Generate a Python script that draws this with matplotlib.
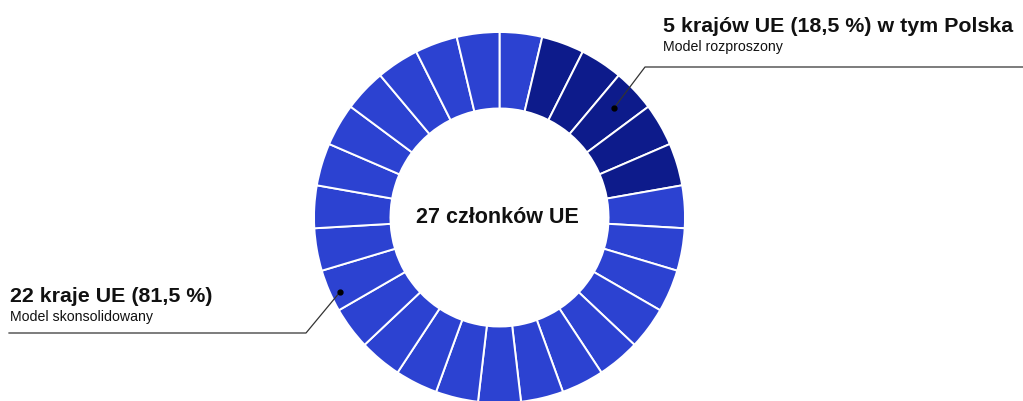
import matplotlib
matplotlib.use("Agg")
import matplotlib.pyplot as plt

# data
total_members = 27
dispersed_count = 5
consolidated_count = 22
center_label = "27 członków UE"
dispersed_title = "5 krajów UE (18,5 %) w tym Polska"
dispersed_sub = "Model rozproszony"
consolidated_title = "22 kraje UE (81,5 %)"
consolidated_sub = "Model skonsolidowany"

light = "#2c42d1"
dark = "#0d1b8b"

# one segment per member: 1 light, then the 5 dark ones, then the rest light
seg_colors = [light] + [dark] * dispersed_count + [light] * (consolidated_count - 1)
sizes = [1] * total_members

plt.rcParams["font.family"] = ["Liberation Sans", "DejaVu Sans"]

W, H = 1023, 401
fig = plt.figure(figsize=(W / 100, H / 100), dpi=100)
ax = fig.add_axes([0, 0, 1, 1])

cx, cy = 499.5, H - 217.5
r_out, r_in = 185.5, 109

ax.pie(sizes, colors=seg_colors, startangle=90, counterclock=False,
       center=(cx, cy), radius=r_out,
       wedgeprops=dict(width=r_out - r_in, edgecolor="white", linewidth=1.4))

ax.set_xlim(0, W)
ax.set_ylim(0, H)
ax.set_aspect("auto")
ax.axis("off")

ax.text(cx - 2, cy, center_label, ha="center", va="center",
        fontsize=15.5, fontweight="bold", color="#111111")

# top-right annotation
ax.plot([614, 645, W], [H - 108, H - 67, H - 67], color="#333333", lw=0.9)
ax.plot(614, H - 108, "o", color="black", ms=3.5)
ax.text(663, H - 32, dispersed_title, ha="left", va="baseline",
        fontsize=15.4, fontweight="bold", color="#111111")
ax.text(663, H - 51.5, dispersed_sub, ha="left", va="baseline",
        fontsize=10.2, color="#111111")

# left annotation
ax.plot([340, 306, 9], [H - 292, H - 333, H - 333], color="#333333", lw=0.9)
ax.plot(340, H - 292, "o", color="black", ms=3.5)
ax.text(10, H - 302, consolidated_title, ha="left", va="baseline",
        fontsize=15.4, fontweight="bold", color="#111111")
ax.text(10, H - 321, consolidated_sub, ha="left", va="baseline",
        fontsize=10.2, color="#111111")

fig.savefig("out.png", dpi=100)
